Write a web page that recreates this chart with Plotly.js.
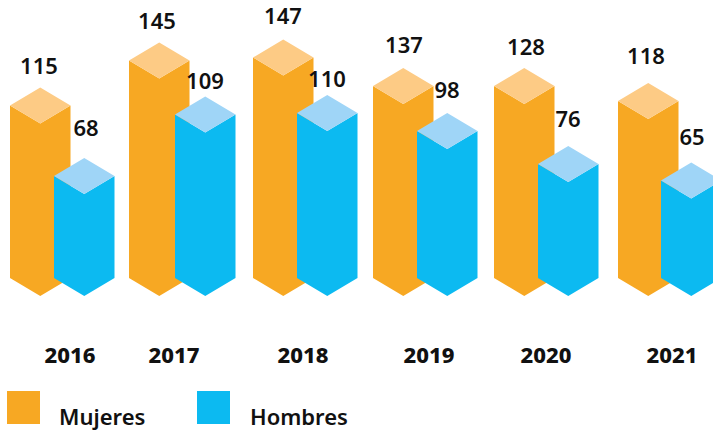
<!DOCTYPE html>
<html>
<head>
<meta charset="utf-8">
<script src="https://cdn.plot.ly/plotly-3.0.1.min.js"></script>
<style>html,body{margin:0;padding:0;background:#fff}#chart{width:713px;height:432px}</style>
</head>
<body>
<div id="chart"></div>
<script>
// Data
const years = ['2016', '2017', '2018', '2019', '2020', '2021'];
const mujeresLabels = [115, 145, 147, 137, 128, 118];
const hombresLabels = [68, 109, 110, 98, 76, 65];
// Bar heights as actually drawn (2019 Mujeres is drawn as tall as 2020)
const mujeresHeights = [115, 145, 147, 128, 128, 118];
const hombresHeights = [68, 109, 110, 98, 76, 65];

// Layout (x in page pixels)
const mujeresLeft = [10, 129, 253, 373, 494, 618];
const hombresLeft = [54, 175, 297, 417, 538, 661];
const yearCenters = [70, 174, 303, 429, 546, 672];
const mujeresLabelX = [39, 157, 283, 404, 526, 646];
const hombresLabelX = [86, 205, 327, 447, 568, 692];
const mujeresLabelGap = [19, 19, 21, 21, 19, 25];
const hombresLabelGap = [28, 13, 14, 21, 25, 23];
const barW = 60.5, PXU = 1.5, depth = 18 / PXU;

const ORANGE = '#F7A823', ORANGE_TOP = '#FDCB85', BLUE = '#0CBAF1', BLUE_TOP = '#9FD5F7';
const SANS = '"Noto Sans", "Open Sans", sans-serif';
const NUMFONT = {family: SANS, size: 22, color: '#111', weight: 600};

function bodyPath(lefts, heights) {
  const xs = [], ys = [];
  lefts.forEach((l, i) => {
    const h = heights[i];
    xs.push(l, l + barW / 2, l + barW, l + barW, l + barW / 2, l, l, null);
    ys.push(h, h - depth, h, 0, -depth, 0, h, null);
  });
  return {x: xs, y: ys};
}
function topPath(lefts, heights) {
  const xs = [], ys = [];
  lefts.forEach((l, i) => {
    const h = heights[i];
    xs.push(l, l + barW / 2, l + barW, l + barW / 2, l, null);
    ys.push(h, h + depth, h, h - depth, h, null);
  });
  return {x: xs, y: ys};
}
function poly(p, color, name) {
  return {type: 'scatter', mode: 'lines', x: p.x, y: p.y, fill: 'toself', fillcolor: color,
          line: {width: 0, color: color}, hoverinfo: 'skip', name: name, showlegend: false};
}
function labels(xs, heights, gaps, texts, name) {
  return {type: 'scatter', mode: 'text', x: xs,
          y: heights.map((h, i) => h + depth + gaps[i] / PXU),
          text: texts.map(String), textposition: 'middle center', textfont: NUMFONT,
          cliponaxis: false, hoverinfo: 'skip', name: name, showlegend: false};
}

const data = [
  poly(bodyPath(mujeresLeft, mujeresHeights), ORANGE, 'Mujeres'),
  poly(topPath(mujeresLeft, mujeresHeights), ORANGE_TOP, 'Mujeres'),
  poly(bodyPath(hombresLeft, hombresHeights), BLUE, 'Hombres'),
  poly(topPath(hombresLeft, hombresHeights), BLUE_TOP, 'Hombres'),
  labels(mujeresLabelX, mujeresHeights, mujeresLabelGap, mujeresLabels, 'Mujeres'),
  labels(hombresLabelX, hombresHeights, hombresLabelGap, hombresLabels, 'Hombres')
];

const plotH = 300;
const py = p => (plotH - p) / plotH;
const layout = {
  width: 713, height: 432,
  margin: {l: 0, r: 0, t: 0, b: 432 - plotH, pad: 0},
  paper_bgcolor: '#fff', plot_bgcolor: '#fff', showlegend: false,
  xaxis: {range: [0, 713], tickmode: 'array', tickvals: yearCenters, ticktext: years,
          ticks: 'outside', ticklen: 36, tickcolor: 'rgba(0,0,0,0)', showgrid: false,
          zeroline: false, showline: false, fixedrange: true,
          tickfont: {family: SANS, size: 22, color: '#111', weight: 800}},
  yaxis: {range: [-22 / PXU, 278 / PXU], visible: false, showgrid: false, zeroline: false, fixedrange: true},
  shapes: [
    {type: 'rect', xref: 'x', yref: 'paper', x0: 7, x1: 40, y0: py(424), y1: py(391), fillcolor: ORANGE, line: {width: 0}},
    {type: 'rect', xref: 'x', yref: 'paper', x0: 197, x1: 230, y0: py(424), y1: py(391), fillcolor: BLUE, line: {width: 0}}
  ],
  annotations: [
    {xref: 'x', yref: 'paper', x: 57, y: py(416), text: 'Mujeres', showarrow: false, xanchor: 'left', yanchor: 'middle',
     font: {family: SANS, size: 22, color: '#111', weight: 600}},
    {xref: 'x', yref: 'paper', x: 248, y: py(416), text: 'Hombres', showarrow: false, xanchor: 'left', yanchor: 'middle',
     font: {family: SANS, size: 22, color: '#111', weight: 600}}
  ]
};
Plotly.newPlot('chart', data, layout, {displayModeBar: false, staticPlot: true});
</script>
</body>
</html>
